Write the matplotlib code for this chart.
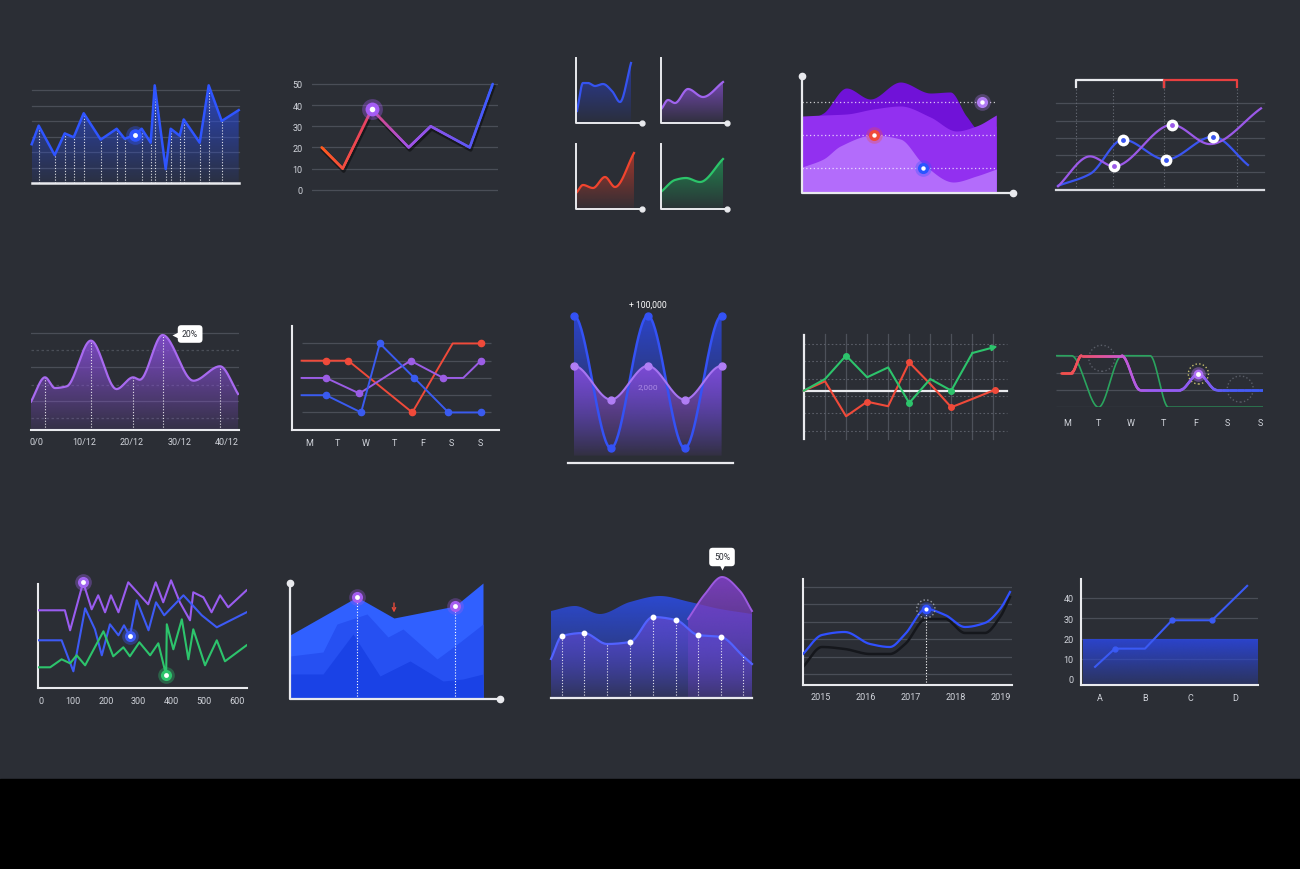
import numpy as np
import matplotlib
matplotlib.use("Agg")
import matplotlib.pyplot as plt
from matplotlib.colors import to_rgb, LinearSegmentedColormap
from matplotlib.collections import LineCollection
from matplotlib.patches import Polygon, Rectangle
from matplotlib.transforms import offset_copy

plt.rcParams["font.family"] = ["Roboto", "DejaVu Sans"]

W, H = 1300, 870
BG = "#2b2e35"
GRID = "#4a4e57"
TXT = "#d2d5dc"
WHITE = "#e9eaee"
BLUE = "#2f55ff"
PURPLE = "#a15ef0"
RED = "#f04a3a"
GREEN = "#2dc46c"

# ---------------- data ----------------
# row 1
spike_x = [0, 7, 23, 33, 42, 52, 69, 85, 93, 103, 110, 119, 123, 134, 139, 148, 152, 168, 177, 190, 207]
spike_y = [2.5, 3.7, 1.8, 3.2, 2.95, 4.5, 2.8, 3.5, 2.85, 3.1, 3.5, 2.6, 6.3, 0.9, 3.5, 3.05, 4.1, 2.6, 6.3, 4.0, 4.7]

zig_x = [0, 2.1, 5.0, 8.7, 10.9, 14.8, 17.1]
zig_y = [20, 10, 38, 20, 30, 20, 50]
zig_ticks = [0, 10, 20, 30, 40, 50]

mini_blue_x = [1, 7, 12, 19, 27, 36, 44, 55]
mini_blue_y = [12, 40, 40, 37, 39, 32, 21, 60]
mini_purple_x = [1, 7, 14, 27, 42, 62]
mini_purple_y = [15, 23, 20, 34, 26, 41]
mini_red_x = [1, 7, 17, 29, 39, 58]
mini_red_y = [17, 24, 21, 32, 22, 56]
mini_green_x = [1, 14, 25, 39, 62]
mini_green_y = [18, 29, 31, 27, 50]

wave_back_x = [0, 21, 44, 68, 98, 128, 148, 164, 178, 194]
wave_back_y = [71, 80, 105, 94, 111, 100, 101, 77, 62, 67]
wave_mid_x = [0, 21, 44, 71, 98, 128, 154, 174, 194]
wave_mid_y = [77, 78, 79, 84, 87, 76, 62, 67, 78]
wave_front_x = [0, 21, 38, 71, 98, 121, 151, 174, 194]
wave_front_y = [26, 34, 47, 58, 54, 29, 11, 17, 24]
wave_pins_x = [180, 72, 121]
wave_pins_y = [91, 58, 25]

duo_purple_x = [2, 34, 58, 116, 154, 205]
duo_purple_y = [0.2, 1.93, 1.35, 3.76, 2.64, 4.71]
duo_blue_x = [2, 34, 67, 110, 157, 192]
duo_blue_y = [0.23, 0.91, 2.9, 1.74, 3.07, 1.43]
duo_marks = [20, 57, 108, 181]

# row 2
peaks_x = [-1.2, 1.75, 3.85, 6.3, 11.4, 16.8, 20.3, 21.7, 26.5, 33.0, 38.6, 42.4]
peaks_y = [1.65, 3.08, 2.45, 2.55, 5.24, 2.39, 3.08, 2.94, 5.57, 2.88, 3.73, 2.1]
peaks_ticks = [0, 10, 20, 30, 40]
peaks_labels = ["0/0", "10/12", "20/12", "30/12", "40/12"]

days = ["M", "T", "W", "T", "F", "S", "S"]
week_red_x = [-0.27, 0.59, 1.37, 3.62, 5.04, 6.03]
week_red_y = [4, 4, 4, 1, 5, 5]
week_purple_x = [-0.27, 0.59, 1.76, 3.56, 4.71, 5.41, 6.03]
week_purple_y = [3, 3, 2.1, 4, 3, 3, 4]
week_blue_x = [-0.27, 0.59, 1.82, 2.48, 3.69, 4.89, 6.03]
week_blue_y = [2, 2, 1, 5, 3, 1, 1]

osc_x = [0, 1, 2, 3, 4]
osc_blue = [100, 10, 100, 10, 100]
osc_purple = [66, 43, 66, 43, 66]

trend_x = [0, 1, 2, 3, 4, 5, 6, 7, 8, 9.2]
trend_green = [0.31, 0.98, 2.33, 1.08, 1.65, -0.4, 0.98, 0.31, 2.48, 2.87]
trend_red_x = [0, 1, 2, 3, 4, 5, 6, 7, 8, 9.06]
trend_red = [0.31, 0.85, -1.17, -0.33, -0.59, 1.94, 0.69, -0.65, -0.17, 0.35]

sig_green_x = [-0.33, 0.15, 0.99, 1.71, 2.59, 3.16, 6.1]
sig_green_y = [3, 3, 0, 3, 3, 0, 0]
sig_mix_x = [-0.19, 0.15, 0.46, 1.71, 2.28, 3.52, 4.09, 4.66, 6.1]
sig_mix_y = [2, 2, 3, 3, 1, 1, 1.94, 1, 1]

# row 3
noisy_ticks = [0, 100, 200, 300, 400, 500, 600]
noisy_purple_x = [-7, 74, 90, 130, 156, 176, 197, 215, 238, 268, 329, 352, 375, 399, 426, 457, 467, 498, 523, 549, 574, 630]
noisy_purple_y = [78, 78, 58, 106, 79, 93, 76, 93, 76, 106, 84, 106, 86, 108, 86, 68, 96, 91, 76, 93, 81, 98]
noisy_blue_x = [-7, 64, 100, 136, 166, 187, 212, 238, 255, 273, 294, 330, 353, 378, 437, 493, 539, 630]
noisy_blue_y = [48, 48, 17, 80, 59, 33, 64, 53, 63, 52, 88, 58, 86, 73, 93, 73, 61, 76]
noisy_green_x = [-7, 29, 64, 90, 110, 136, 192, 222, 253, 273, 302, 335, 360, 384, 386, 406, 432, 452, 467, 503, 539, 564, 630]
noisy_green_y = [21, 21, 29, 25, 33, 23, 57, 32, 41, 32, 46, 33, 45, 13, 64, 39, 69, 29, 59, 23, 48, 27, 43]

stack_top_x = [0, 67, 104, 165, 193]
stack_top_y = [64, 102, 81, 93, 116]
stack_mid_x = [0, 33, 47, 77, 98, 113, 147, 170, 193]
stack_mid_y = [43, 47, 75, 85, 62, 70, 40, 57, 75]
stack_low_x = [0, 33, 63, 90, 120, 153, 173, 193]
stack_low_y = [25, 25, 65, 23, 38, 18, 20, 25]

hump_back_x = [0, 24, 49, 79, 109, 139, 169, 201]
hump_back_y = [87, 92, 84, 96, 102, 96, 89, 84]
hump_top_x = [137, 154, 171, 189, 201]
hump_top_y = [79, 104, 121, 107, 87]
hump_front_x = [0, 11, 33, 56, 79, 102, 125, 147, 170, 192, 201]
hump_front_y = [39, 62, 65, 54, 56, 81, 78, 63, 61, 42, 34]

years = [2015, 2016, 2017, 2018, 2019]
yr_x = [2014.6, 2015.02, 2015.53, 2016.09, 2016.53, 2016.87, 2017.33, 2017.76, 2018.2, 2018.64, 2018.98, 2019.2]
yr_blue = [31, 50, 53, 41, 38, 51, 76, 70, 58, 62, 76, 93]
yr_shadow = [18, 38, 36, 31, 31, 41, 66, 66, 52, 52, 68, 88]

letters = ["A", "B", "C", "D"]
letter_ticks = [0, 10, 20, 30, 40]
letter_x = [-0.11, 0.33, 1.0, 1.6, 2.49, 3.27]
letter_y = [6, 15, 15, 29, 29, 46]
letter_band = 20


# ---------------- helpers ----------------
fig = plt.figure(figsize=(W / 100, H / 100), dpi=100)
fig.patch.set_facecolor(BG)
fig.add_artist(Rectangle((0, 0), 1, 90 / H, transform=fig.transFigure, color="black", zorder=0))


def panel(x0, y0, x1, y1, xr, yr, off=True):
    # xr / yr: (value a, pixel a, value b, pixel b)
    ax = fig.add_axes([x0 / W, 1 - y1 / H, (x1 - x0) / W, (y1 - y0) / H])
    kx = (xr[2] - xr[0]) / (xr[3] - xr[1])
    ky = (yr[2] - yr[0]) / (yr[3] - yr[1])
    ax.set_xlim(xr[0] + (x0 - xr[1]) * kx, xr[0] + (x1 - xr[1]) * kx)
    ax.set_ylim(yr[0] + (y1 - yr[1]) * ky, yr[0] + (y0 - yr[1]) * ky)
    ax.set_facecolor("none")
    if off:
        ax.axis("off")
    else:
        for s in ax.spines.values():
            s.set_visible(False)
        ax.tick_params(length=0, labelsize=6.5, labelcolor=TXT)
        ax.set_xticks([])
        ax.set_yticks([])
    return ax


def white_spines(ax, which=("left", "bottom")):
    for s in which:
        ax.spines[s].set_visible(True)
        ax.spines[s].set_color(WHITE)
        ax.spines[s].set_linewidth(1.5)


def smooth(x, y, n=24, flat_ends=False):
    x = np.asarray(x, float)
    y = np.asarray(y, float)
    h = np.diff(x)
    d = np.diff(y) / h
    m = np.zeros_like(y)
    if not flat_ends:
        m[0], m[-1] = d[0], d[-1]
    for i in range(1, len(y) - 1):
        if d[i - 1] * d[i] > 0:
            w1 = 2 * h[i] + h[i - 1]
            w2 = h[i] + 2 * h[i - 1]
            m[i] = (w1 + w2) / (w1 / d[i - 1] + w2 / d[i])
    xs, ys = [], []
    t = np.linspace(0, 1, n, endpoint=False)
    for i in range(len(h)):
        h00 = 2 * t**3 - 3 * t**2 + 1
        h10 = t**3 - 2 * t**2 + t
        h01 = -2 * t**3 + 3 * t**2
        h11 = t**3 - t**2
        xs.append(x[i] + t * h[i])
        ys.append(h00 * y[i] + h10 * h[i] * m[i] + h01 * y[i + 1] + h11 * h[i] * m[i + 1])
    xs.append([x[-1]])
    ys.append([y[-1]])
    return np.concatenate(xs), np.concatenate(ys)


def gfill(ax, x, y, base, color, a_top=0.85, a_bot=0.0, z=2, top=None):
    x = np.asarray(x, float)
    y = np.asarray(y, float)
    verts = np.column_stack([np.r_[x[0], x, x[-1]], np.r_[base, y, base]])
    poly = Polygon(verts, closed=True, fc="none", ec="none")
    ax.add_patch(poly)
    rgba = np.zeros((256, 1, 4))
    rgba[..., :3] = to_rgb(color)
    rgba[:, 0, 3] = np.linspace(a_bot, a_top, 256)
    ytop = y.max() if top is None else top
    im = ax.imshow(rgba, extent=[x.min(), x.max(), base, ytop], origin="lower",
                   aspect="auto", zorder=z, interpolation="bilinear")
    im.set_clip_path(poly)


def cline(ax, x, y, colors, lw=1.8, z=5, dense=False):
    x = np.asarray(x, float)
    y = np.asarray(y, float)
    if dense:
        t = np.linspace(0, len(x) - 1, (len(x) - 1) * 30 + 1)
        x = np.interp(t, np.arange(len(x)), x)
        y = np.interp(t, np.arange(len(y)), y)
    pts = np.column_stack([x, y]).reshape(-1, 1, 2)
    segs = np.concatenate([pts[:-1], pts[1:]], axis=1)
    cmap = LinearSegmentedColormap.from_list("c", colors)
    lc = LineCollection(segs, cmap=cmap, lw=lw, zorder=z, capstyle="round", joinstyle="round")
    mid = (x[:-1] + x[1:]) / 2
    lc.set_array((mid - x.min()) / (x.max() - x.min()))
    lc.set_clim(0, 1)
    ax.add_collection(lc)


def dot(ax, x, y, color, size=9, inner=3.5, glow=0.35, z=8):
    if glow:
        ax.plot(x, y, "o", ms=size * 1.5, color=color, alpha=glow, mec="none", zorder=z, clip_on=False)
    ax.plot(x, y, "o", ms=size, color=color, mec="none", zorder=z + 0.1, clip_on=False)
    ax.plot(x, y, "o", ms=inner, color="white", mec="none", zorder=z + 0.2, clip_on=False)


DOTTED = (0, (1, 1.6))

# ---------------- row 1 ----------------
# 1. spiky blue area
ax = panel(26, 75, 244, 190, (0, 31.7, 1, 32.7), (0, 184, 6, 91))
for g in range(1, 7):
    ax.plot([0, 207], [g, g], color=GRID, lw=0.9, zorder=1)
gfill(ax, spike_x, spike_y, 0, "#2a4be0", 0.8, 0.08)
for i, (x, y) in enumerate(zip(spike_x, spike_y)):
    if 0 < i < len(spike_x) - 1 and i != 9:
        ax.plot([x, x], [0, y], color="white", lw=0.8, ls=DOTTED, alpha=0.85, zorder=3)
ax.plot(spike_x, spike_y, color=BLUE, lw=1.8, zorder=4)
ax.plot([0, 207], [0, 0], color=WHITE, lw=1.8, zorder=5)
dot(ax, spike_x[9], spike_y[9], BLUE, 9, 3.5)

# 2. zig-zag gradient line
ax = panel(312.3, 75, 497.7, 195, (0, 321.7, 10, 421.7), (0, 190.7, 50, 85), off=False)
ax.set_yticks(zig_ticks)
ax.tick_params(axis="y", pad=7)
ax.grid(axis="y", color=GRID, lw=0.9)
ax.set_axisbelow(True)
ax.plot(zig_x, zig_y, color="black", alpha=0.45, lw=2.6, zorder=3,
        transform=offset_copy(ax.transData, fig=fig, x=1, y=-2.5, units="dots"))
cline(ax, zig_x, zig_y, ["#ff5a1e", "#e8435f", "#a452e6", "#7a55ee", "#3a5bff"], lw=1.9, dense=True)
dot(ax, zig_x[2], zig_y[2], "#a55cf5", 10, 4)

# 3. four mini area charts
minis = [
    (576, 124, mini_blue_x, mini_blue_y, "#3553f0", "#2a3fbf"),
    (661, 124, mini_purple_x, mini_purple_y, "#a064ee", "#8a4fd6"),
    (576, 210, mini_red_x, mini_red_y, "#f0442e", "#c83a2a"),
    (661, 210, mini_green_x, mini_green_y, "#2cc46a", "#1f9a55"),
]
for ox, oy, xs, ys, lc, fc in minis:
    ax = panel(ox - 6, oy - 70, ox + 72, oy + 6, (0, ox, 1, ox + 1), (0, oy, 1, oy - 1))
    sx, sy = smooth(xs, ys)
    gfill(ax, sx, sy, 0, fc, 0.75, 0.05)
    ax.plot(sx, sy, color=lc, lw=1.6, zorder=4)
    ax.plot([0, 0, 66], [65, 0, 0], color=WHITE, lw=1.4, zorder=5)
    ax.plot(66, 0, "o", ms=3.5, color=WHITE, zorder=6, clip_on=False)

# 4. layered purple waves
ax = panel(795, 70, 1020, 200, (0, 802.3, 1, 803.3), (0, 194, 1, 193))
for xs, ys, c in [(wave_back_x, wave_back_y, "#7012d8"),
                  (wave_mid_x, wave_mid_y, "#9230f0"),
                  (wave_front_x, wave_front_y, "#b36cfb")]:
    sx, sy = smooth(xs, ys)
    ax.fill_between(sx, 0, sy, color=c, lw=0, zorder=2)
for lv in wave_pins_y:
    ax.plot([0, 194], [lv, lv], color="white", lw=0.9, ls=(0, (1, 2)), alpha=0.75, zorder=3)
ax.plot([0, 0, 210.3], [116.7, 0, 0], color=WHITE, lw=1.6, zorder=4)
ax.plot([0, 210.3], [116.7, 0], "o", ms=4.5, color=WHITE, zorder=5, clip_on=False)
for px, py, c in zip(wave_pins_x, wave_pins_y, ["#b27cf5", RED, "#2a55ff"]):
    dot(ax, px, py, c, 8, 3.2, glow=0.3)

# 5. two smooth lines with bracket
ax = panel(1050, 72, 1270, 196, (0, 1056, 1, 1057), (0, 190.7, 1, 173.43))
for g in range(1, 6):
    ax.plot([0, 208], [g, g], color=GRID, lw=0.9, zorder=1)
for vx in duo_marks:
    ax.plot([vx, vx], [0, 5.93], color="#6a6e78", lw=0.8, ls=(0, (1, 2)), zorder=1)
ax.plot([duo_marks[0], duo_marks[0], duo_marks[2], duo_marks[2]], [5.93, 6.37, 6.37, 5.93],
        color=WHITE, lw=1.6, zorder=3)
ax.plot([duo_marks[2], duo_marks[2], duo_marks[3], duo_marks[3]], [5.93, 6.37, 6.37, 5.93],
        color="#e84040", lw=1.6, zorder=3)
ax.plot([0, 208], [0, 0], color="#d8dae0", lw=1.6, zorder=2)
for xs, ys, c in [(duo_blue_x, duo_blue_y, "#3a55f0"), (duo_purple_x, duo_purple_y, "#9b59e8")]:
    sx, sy = smooth(xs, ys)
    ax.plot(sx, sy, color=c, lw=1.6, zorder=4)
for xs, ys, idx, c in [(duo_purple_x, duo_purple_y, [2, 3], "#9b59e8"),
                       (duo_blue_x, duo_blue_y, [2, 3, 4], "#3a55f0")]:
    for i in idx:
        ax.plot(xs[i], ys[i], "o", ms=8.5, color="white", mec="none", zorder=6)
        ax.plot(xs[i], ys[i], "o", ms=3.5, color=c, mec="none", zorder=7)

# ---------------- row 2 ----------------
# 6. purple peaks with tooltip
ax = panel(31, 325, 239, 430.7, (0, 36.7, 10, 84.2), (0, 430.7, 1, 413.7), off=False)
white_spines(ax, ["bottom"])
ax.set_xticks(peaks_ticks, peaks_labels)
ax.tick_params(axis="x", pad=5)
for k, g in enumerate([0.7, 1.7, 2.65, 3.7, 4.7, 5.7]):
    ax.axhline(g, color=GRID, lw=0.9, ls="-" if k % 2 else (0, (2, 2)), zorder=1)
sx, sy = smooth(peaks_x, peaks_y)
gfill(ax, sx, sy, 0, "#8c4fe0", 0.85, 0.1)
for i in [1, 4, 6, 8, 10]:
    ax.plot([peaks_x[i]] * 2, [0, np.interp(peaks_x[i], sx, sy)], color="white", lw=0.8,
            ls=DOTTED, alpha=0.85, zorder=3)
ax.plot(sx, sy, color="#a86af0", lw=1.6, zorder=4)
ax.text(32.3, 5.63, "20%", fontsize=6.2, color="#2b2e35", ha="center", va="center", zorder=9,
        bbox=dict(boxstyle="round,pad=0.5,rounding_size=0.4", fc="white", ec="none"))
ax.plot(29.1, 5.6, marker="<", ms=4, color="white", mec="none", zorder=9, clip_on=False)

# 7. weekday lines
ax = panel(291.7, 326.7, 499, 430.7, (0, 309.3, 1, 337.75), (0, 430.7, 1, 413.45), off=False)
white_spines(ax)
ax.set_xticks(range(7), days)
ax.tick_params(axis="x", pad=5.8)
ax.hlines(range(1, 6), -0.27, 6.4, color=GRID, lw=0.9, zorder=1)
for xs, ys, c, marks in [(week_red_x, week_red_y, RED, [1, 2, 3, 5]),
                         (week_purple_x, week_purple_y, "#9b5de5", [1, 2, 3, 4, 6]),
                         (week_blue_x, week_blue_y, "#3a5bf0", [1, 2, 3, 4, 5, 6])]:
    ax.plot(xs, ys, color=c, lw=1.4, zorder=3)
    ax.plot([xs[i] for i in marks], [ys[i] for i in marks], "o", ms=4.5, color=c, zorder=4)

# 8. oscillating areas
ax = panel(565, 298, 738, 470, (0, 574, 1, 610.9), (0, 464, 1, 462.527))
sbx, sby = smooth(osc_x, osc_blue, 40, flat_ends=True)
spx, spy = smooth(osc_x, osc_purple, 40, flat_ends=True)
gfill(ax, sbx, sby, 5, "#2c46d8", 0.9, 0.0, z=2, top=100)
gfill(ax, spx, spy, 5, "#8a4de0", 0.85, 0.08, z=3)
ax.plot(sbx, sby, color="#3452f5", lw=1.8, zorder=4)
ax.plot(spx, spy, color="#a774f2", lw=1.5, zorder=5)
ax.plot(osc_x, osc_blue, "o", ms=5, color="#3452f5", zorder=6)
ax.plot(osc_x, osc_purple, "o", ms=5, color="#b07ef5", zorder=6)
ax.plot([-0.154, 4.3], [0, 0], color=WHITE, lw=1.6, zorder=6)
ax.text(2, 107.5, "+ 100,000", fontsize=6.2, color="white", ha="center", va="center")
ax.text(2, 52.5, "2,000", fontsize=6, color="#c9a8f5", alpha=0.7, ha="center", va="center", zorder=7)

# 9. red / green trend on grid
ax = panel(798, 330, 1012, 445, (0, 804, 1, 825.04), (0, 397, 1, 379.67))
for i in range(1, 10):
    ax.plot([i, i], [-2.5, 3.55], color="#4d515a", lw=0.9, zorder=1)
for g in range(-2, 4):
    ax.plot([0, 9.63], [g, g], color="#5a5e68", lw=0.8, ls=(0, (1.5, 2)), zorder=1)
ax.plot([0, 9.63], [0.31, 0.31], color=WHITE, lw=1.6, zorder=2)
ax.plot([0, 0], [-2.48, 3.52], color=WHITE, lw=1.6, zorder=2)
ax.plot(trend_x[:-1], trend_green[:-1], color=GREEN, lw=1.5, zorder=4)
ax.annotate("", xy=(trend_x[-1], trend_green[-1]), xytext=(trend_x[-2], trend_green[-2]),
            arrowprops=dict(arrowstyle="-|>", color=GREEN, lw=1.5, mutation_scale=8,
                            shrinkA=0, shrinkB=0), zorder=4)
ax.plot(trend_red_x, trend_red, color=RED, lw=1.5, zorder=3)
ax.plot([trend_x[i] for i in [2, 5, 7]], [trend_green[i] for i in [2, 5, 7]], "o", ms=4, color=GREEN, zorder=5)
ax.plot([trend_red_x[i] for i in [3, 5, 7, 9]], [trend_red[i] for i in [3, 5, 7, 9]], "o", ms=4,
        color=RED, zorder=5)

# 10. sigmoid weekday lines
ax = panel(1056, 345, 1263.3, 408.3, (0, 1066.7, 1, 1098.9), (0, 408.3, 1, 391.1), off=False)
ax.set_xticks(range(7), days)
ax.tick_params(axis="x", pad=7.7)
ax.hlines(range(4), *ax.get_xlim(), color=GRID, lw=0.9, zorder=1)
gx, gy = smooth(sig_green_x, sig_green_y, 40)
ax.plot(gx, gy, color="#2aa45e", lw=1.2, zorder=3)
mx, my = smooth(sig_mix_x, sig_mix_y, 40)
mix_cmap = [(0, "#f0504a"), (0.08, "#f0505a"), (0.2, "#e0559a"), (0.32, "#c45ad8"),
            (0.45, "#9a5cf0"), (0.72, "#8a5cf2"), (0.82, "#4f5cf5"), (1, "#3e5cf5")]
cline(ax, mx, my, mix_cmap, lw=1.8, z=4)
ax.scatter([1.09, 5.39], [2.85, 1.06], s=350, facecolors="none", edgecolors="#5a5e68",
           linestyles=":", lw=1, zorder=2, clip_on=False)
ax.scatter([sig_mix_x[6]], [sig_mix_y[6]], s=210, facecolors="none", edgecolors="#c8c070",
           linestyles=":", lw=1, zorder=2, clip_on=False)
dot(ax, sig_mix_x[6], sig_mix_y[6], "#b070f5", 7, 3.5, glow=0.4)

# ---------------- row 3 ----------------
# 11. noisy lines
ax = panel(37.7, 580, 246.7, 689.3, (0, 40.7, 100, 73.37), (0, 689.3, 1, 688.3), off=False)
white_spines(ax)
ax.spines["left"].set_bounds(0, 104.3)
ax.set_xticks(noisy_ticks)
ax.tick_params(axis="x", pad=5.7)
ax.plot(noisy_purple_x, noisy_purple_y, color="#9a5cf0", lw=1.5, zorder=3)
ax.plot(noisy_blue_x, noisy_blue_y, color="#3d5af5", lw=1.5, zorder=3)
ax.plot(noisy_green_x, noisy_green_y, color=GREEN, lw=1.5, zorder=3)
dot(ax, noisy_purple_x[3], noisy_purple_y[3], "#a064f0", 8, 3.5)
dot(ax, noisy_blue_x[9], noisy_blue_y[9], "#3d5af5", 8, 3.5)
dot(ax, noisy_green_x[13], noisy_green_y[13], GREEN, 8, 3.5)

# 12. stacked blue areas
ax = panel(284, 575, 506, 706, (0, 290, 1, 291), (0, 700, 1, 699))
for xs, ys, c in [(stack_top_x, stack_top_y, "#3060ff"),
                  (stack_mid_x, stack_mid_y, "#2650f2"),
                  (stack_low_x, stack_low_y, "#1a42e6")]:
    ax.fill_between(xs, 0, ys, color=c, lw=0, zorder=2)
for i in [1, 3]:
    ax.plot([stack_top_x[i]] * 2, [0, stack_top_y[i]], color="white", lw=0.8, ls=DOTTED, zorder=3)
    dot(ax, stack_top_x[i], stack_top_y[i], "#a45cf0", 8, 3.5, glow=0.3)
ax.annotate("", xy=(stack_top_x[2], 86.5), xytext=(stack_top_x[2], 96),
            arrowprops=dict(arrowstyle="->", color="#e84a3a", lw=1, mutation_scale=6,
                            shrinkA=0, shrinkB=0))
ax.plot([0, 0, 210], [116, 0, 0], color=WHITE, lw=1.6, zorder=4)
ax.plot([0, 210], [116, 0], "o", ms=4.5, color=WHITE, zorder=5, clip_on=False)

# 13. hump with tooltip
ax = panel(545, 540, 758, 705, (0, 551, 1, 552), (0, 699, 1, 698))
bx, by = smooth(hump_back_x, hump_back_y)
gfill(ax, bx, by, 0, "#2c4ad8", 0.95, 0.15, z=2)
tx, ty = smooth(hump_top_x, hump_top_y)
gfill(ax, tx, ty, 0, "#7b3fbf", 0.95, 0.2, z=2.5)
ax.plot(tx, ty, color="#9c5ae0", lw=1.4, zorder=2.6)
fx, fy = smooth(hump_front_x, hump_front_y)
gfill(ax, fx, fy, 0, "#5a48cc", 0.9, 0.1, z=3)
ax.plot(fx, fy, color="#5262ff", lw=1.6, zorder=4)
for i in range(1, 10):
    ax.plot([hump_front_x[i]] * 2, [0, np.interp(hump_front_x[i], fx, fy)], color="white",
            lw=0.8, ls=DOTTED, alpha=0.85, zorder=5)
for i in [1, 2, 4, 5, 6, 7, 8]:
    ax.plot(hump_front_x[i], hump_front_y[i], "o", ms=3.2, color="white", zorder=6)
ax.plot([0, 201], [0, 0], color=WHITE, lw=1.6, zorder=6)
ax.text(171, 141, "50%", fontsize=6.2, color="#2b2e35", ha="center", va="center", zorder=9,
        bbox=dict(boxstyle="round,pad=0.55,rounding_size=0.4", fc="white", ec="none"))
ax.plot(171, 131, marker="v", ms=4, color="white", mec="none", zorder=9)

# 14. yearly line
ax = panel(803, 580, 1012, 686, (2015, 821, 2016, 866), (0, 686, 1, 685), off=False)
white_spines(ax)
ax.set_xticks(years)
ax.tick_params(axis="x", pad=4.7)
ax.hlines([11, 28, 46, 63, 81, 98], *ax.get_xlim(), color=GRID, lw=0.9, zorder=1)
shx, shy = smooth(yr_x, yr_shadow)
ax.plot(shx, shy, color="#15171c", lw=1.8, zorder=2)
bx, by = smooth(yr_x, yr_blue)
ax.plot(bx, by, color="#3050ff", lw=1.6, zorder=3)
ax.plot([yr_x[6]] * 2, [0, yr_blue[6]], color="white", lw=0.8, ls=DOTTED, zorder=2)
ax.scatter([yr_x[6]], [yr_blue[6]], s=170, facecolors="none", edgecolors="#9a9ea8",
           linestyles=":", lw=1, zorder=4)
dot(ax, yr_x[6], yr_blue[6], "#3050ff", 7, 3, glow=0.3)

# 15. step line over blue band
ax = panel(1081, 580, 1258, 686, (0, 1100, 1, 1145), (0, 680, 10, 659.75), off=False)
white_spines(ax)
ax.set_xticks(range(4), letters)
ax.set_yticks(letter_ticks)
ax.tick_params(axis="x", pad=5.5)
ax.tick_params(axis="y", pad=5.4)
ax.hlines(letter_ticks[1:], *ax.get_xlim(), color=GRID, lw=0.9, zorder=1)
xl = ax.get_xlim()
gfill(ax, [xl[0] + 0.04, xl[1]], [letter_band, letter_band], ax.get_ylim()[0], "#2b45d6", 0.95, 0.25)
ax.plot(letter_x, letter_y, color="#3a5af5", lw=1.5, zorder=4)
ax.plot([letter_x[i] for i in [1, 3, 4]], [letter_y[i] for i in [1, 3, 4]], "o", ms=3.5,
        color="#3a5af5", zorder=5)

fig.savefig("out.png", dpi=100, facecolor=BG)
